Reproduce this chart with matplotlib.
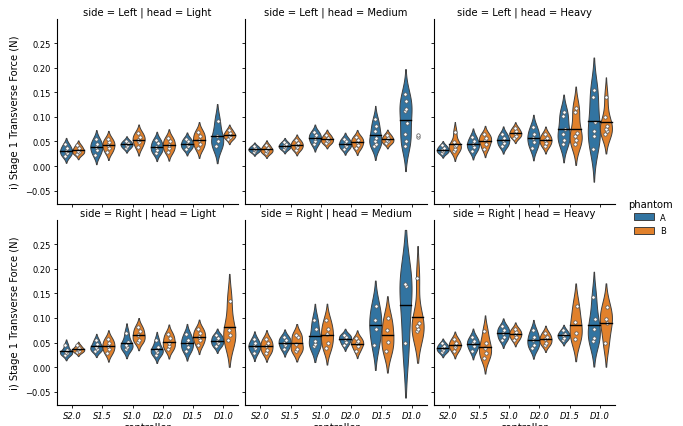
import numpy as np
import matplotlib
matplotlib.use("Agg")
from matplotlib import pyplot as plt
from matplotlib.patches import Patch

controllers = ["S2.0", "S1.5", "S1.0", "D2.0", "D1.5", "D1.0"]
sides = ["Left", "Right"]
heads = ["Light", "Medium", "Heavy"]
phantoms = ["A", "B"]

# force values per controller (one list per controller)
left_light_a = [[0.020, 0.026, 0.031, 0.036, 0.044], [0.022, 0.032, 0.039, 0.045, 0.055],
                [0.036, 0.041, 0.044, 0.047, 0.052], [0.026, 0.033, 0.039, 0.046, 0.054],
                [0.034, 0.040, 0.044, 0.050, 0.056], [0.040, 0.050, 0.061, 0.092]]
left_light_b = [[0.024, 0.028, 0.031, 0.036, 0.042], [0.028, 0.036, 0.043, 0.048, 0.056],
                [0.038, 0.048, 0.054, 0.060, 0.068], [0.028, 0.036, 0.043, 0.050, 0.058],
                [0.036, 0.045, 0.053, 0.062, 0.070], [0.055, 0.060, 0.063, 0.067, 0.074]]
left_medium_a = [[0.028, 0.032, 0.034, 0.037, 0.041], [0.034, 0.038, 0.041, 0.044, 0.049],
                 [0.044, 0.052, 0.058, 0.063, 0.070], [0.035, 0.040, 0.045, 0.050, 0.056],
                 [0.040, 0.045, 0.050, 0.058, 0.071, 0.081, 0.095],
                 [0.041, 0.051, 0.065, 0.088, 0.112, 0.117, 0.132, 0.146]]
left_medium_b = [[0.026, 0.030, 0.033, 0.037, 0.043], [0.033, 0.038, 0.043, 0.047, 0.053],
                 [0.046, 0.050, 0.054, 0.058, 0.064], [0.036, 0.043, 0.049, 0.054, 0.060],
                 [0.046, 0.050, 0.054, 0.058, 0.064], [0.059, 0.063]]
left_heavy_a = [[0.026, 0.030, 0.033, 0.037, 0.042], [0.030, 0.038, 0.044, 0.050, 0.060],
                [0.040, 0.046, 0.053, 0.058, 0.066], [0.036, 0.048, 0.058, 0.066, 0.080],
                [0.044, 0.054, 0.065, 0.075, 0.102, 0.109],
                [0.034, 0.061, 0.071, 0.090, 0.140, 0.155]]
left_heavy_b = [[0.030, 0.035, 0.040, 0.042, 0.048, 0.070], [0.035, 0.045, 0.053, 0.058, 0.065],
                [0.058, 0.062, 0.067, 0.071, 0.078], [0.040, 0.047, 0.053, 0.058, 0.066],
                [0.045, 0.054, 0.061, 0.068, 0.109, 0.119],
                [0.065, 0.071, 0.075, 0.082, 0.100, 0.141]]
right_light_a = [[0.025, 0.028, 0.030, 0.034, 0.045], [0.033, 0.036, 0.040, 0.046, 0.055],
                 [0.037, 0.040, 0.045, 0.052, 0.070], [0.025, 0.030, 0.035, 0.040, 0.055],
                 [0.033, 0.040, 0.050, 0.056, 0.068], [0.042, 0.048, 0.053, 0.060, 0.065]]
right_light_b = [[0.030, 0.033, 0.036, 0.038, 0.044], [0.028, 0.036, 0.043, 0.050, 0.058],
                 [0.052, 0.056, 0.065, 0.073, 0.082], [0.036, 0.043, 0.050, 0.060, 0.068],
                 [0.045, 0.055, 0.062, 0.070, 0.078], [0.055, 0.065, 0.075, 0.135]]
right_medium_a = [[0.028, 0.038, 0.042, 0.048, 0.057], [0.036, 0.044, 0.050, 0.056, 0.062],
                  [0.043, 0.047, 0.053, 0.077, 0.096], [0.045, 0.052, 0.058, 0.062, 0.066],
                  [0.045, 0.077, 0.096, 0.125], [0.048, 0.164, 0.169]]
right_medium_b = [[0.028, 0.035, 0.043, 0.050, 0.058], [0.033, 0.036, 0.046, 0.062, 0.066],
                  [0.038, 0.050, 0.067, 0.077, 0.096], [0.033, 0.043, 0.048, 0.053, 0.060],
                  [0.033, 0.051, 0.075, 0.100], [0.074, 0.078, 0.084, 0.089, 0.181]]
right_heavy_a = [[0.030, 0.035, 0.038, 0.043, 0.048], [0.032, 0.042, 0.048, 0.053, 0.062],
                 [0.055, 0.062, 0.070, 0.076, 0.083], [0.038, 0.045, 0.055, 0.062, 0.075],
                 [0.055, 0.060, 0.065, 0.068, 0.075], [0.053, 0.060, 0.077, 0.098, 0.142]]
right_heavy_b = [[0.032, 0.040, 0.045, 0.050, 0.058], [0.018, 0.029, 0.038, 0.050, 0.074],
                 [0.055, 0.062, 0.067, 0.072, 0.078], [0.045, 0.050, 0.057, 0.062, 0.070],
                 [0.057, 0.070, 0.092, 0.125], [0.048, 0.090, 0.098, 0.123]]

panels = {
    ("Left", "Light"): (left_light_a, left_light_b),
    ("Left", "Medium"): (left_medium_a, left_medium_b),
    ("Left", "Heavy"): (left_heavy_a, left_heavy_b),
    ("Right", "Light"): (right_light_a, right_light_b),
    ("Right", "Medium"): (right_medium_a, right_medium_b),
    ("Right", "Heavy"): (right_heavy_a, right_heavy_b),
}

colors = ["#3274a1", "#e1812c"]
edge = "#3f3f3f"
jitter = [-0.03, 0.02, -0.01, 0.035, -0.025, 0.01, 0.0, -0.015]


# gaussian kde, scott bandwidth, cut = 2 (like seaborn)
def kde_curve(vals):
    v = np.asarray(vals)
    bw = len(v) ** (-0.2) * v.std(ddof=1)
    grid = np.linspace(v.min() - 2 * bw, v.max() + 2 * bw, 100)
    dens = np.exp(-0.5 * ((grid[:, None] - v[None, :]) / bw) ** 2).sum(1)
    return grid, dens / dens.max()


fig, axes = plt.subplots(2, 3, figsize=(6.83, 4.27), dpi=100, sharex=True, sharey=True)
fig.subplots_adjust(left=0.0835, right=0.9004, top=0.9532, bottom=0.0492,
                    wspace=0.0387, hspace=0.0865)

for r, side in enumerate(sides):
    for c, head in enumerate(heads):
        ax = axes[r, c]
        groups = panels[(side, head)]
        for h, series in enumerate(groups):
            for i, vals in enumerate(series):
                xc = i + (h - 0.5) * 0.4
                if len(vals) >= 3:
                    grid, d = kde_curve(vals)
                    ax.fill_betweenx(grid, xc - 0.2 * d, xc + 0.2 * d, facecolor=colors[h],
                                     edgecolor=edge, lw=0.7, zorder=2)
                    mean = np.mean(vals)
                    ax.plot([xc - 0.19, xc + 0.19], [mean, mean], color="black", lw=1.0, zorder=4)
                    offs = [jitter[k % len(jitter)] for k in range(len(vals))]
                else:
                    offs = [0.0] * len(vals)
                ax.scatter([xc + o for o in offs], vals,
                           s=6, facecolor="white", edgecolor="#555555", lw=0.5, zorder=3)
        ax.set_title(f"side = {side} | head = {head}", fontsize=7.2, pad=3)
        ax.spines["top"].set_visible(False)
        ax.spines["right"].set_visible(False)
        for s in ["left", "bottom"]:
            ax.spines[s].set_linewidth(0.8)
        ax.tick_params(labelsize=6.0, length=2.5, width=0.6, pad=2)
        ax.set_xlim(-0.5, 5.5)
        ax.set_ylim(-0.077, 0.299)
        ax.set_yticks([-0.05, 0.0, 0.05, 0.10, 0.15, 0.20, 0.25])
        ax.set_xticks(range(len(controllers)))
        ax.set_xticklabels(controllers, style="italic")
        if c == 0:
            ax.set_ylabel("i) Stage 1 Transverse Force (N)", fontsize=7.2)
        if r == 1:
            ax.set_xlabel("controller", fontsize=7.2, labelpad=1)

handles = [Patch(facecolor=colors[k], edgecolor=edge, lw=0.7, label=p) for k, p in enumerate(phantoms)]
leg = fig.legend(handles=handles, title="phantom", loc="center left", bbox_to_anchor=(0.908, 0.49),
                 frameon=False, fontsize=6.0, title_fontsize=7.2, handlelength=2.4, handleheight=0.9)

plt.savefig("out.png", dpi=100)
